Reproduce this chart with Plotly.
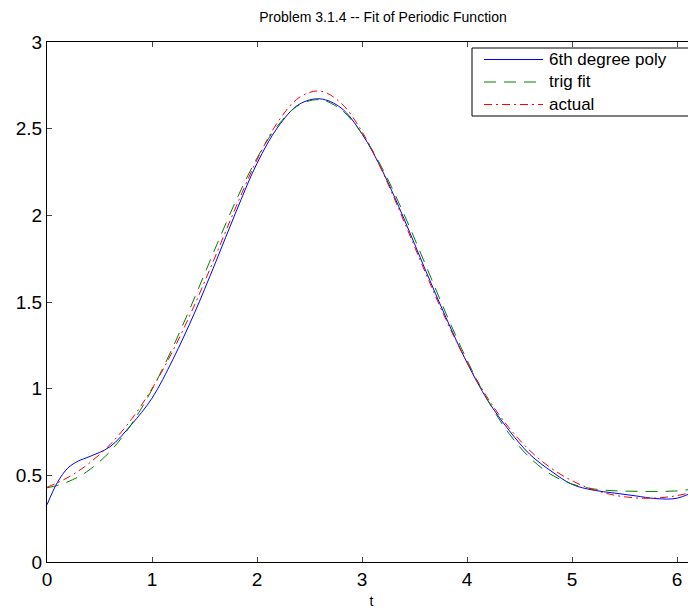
import plotly.graph_objects as go

# sample times
t = [0.0, 0.1, 0.2, 0.3, 0.4, 0.6, 0.8, 1.0, 1.2, 1.4, 1.6, 1.8, 2.0, 2.2, 2.4, 2.6, 2.8, 3.0,
     3.2, 3.4, 3.6, 3.8, 4.0, 4.2, 4.4, 4.6, 4.8, 5.0, 5.2, 5.4, 5.6, 5.8, 6.0, 6.2, 6.283]

# 6th degree polynomial fit (blue)
poly = [0.33, 0.46, 0.543, 0.583, 0.607, 0.665, 0.79, 0.945, 1.17, 1.43, 1.72, 2.02, 2.30,
        2.51, 2.64, 2.672, 2.62, 2.47, 2.25, 1.98, 1.69, 1.41, 1.15, 0.93, 0.76, 0.62, 0.525,
        0.448, 0.415, 0.398, 0.382, 0.366, 0.368, 0.42, 0.46]

# trigonometric fit (green)
trig = [0.428, 0.442, 0.463, 0.492, 0.530, 0.637, 0.791, 0.995, 1.241, 1.517, 1.806, 2.085,
        2.330, 2.520, 2.636, 2.667, 2.610, 2.471, 2.263, 2.006, 1.722, 1.434, 1.165, 0.930,
        0.741, 0.601, 0.505, 0.450, 0.422, 0.411, 0.408, 0.407, 0.410, 0.424, 0.428]

# actual function (red)
actual = [0.431, 0.457, 0.488, 0.525, 0.569, 0.677, 0.820, 1.000, 1.220, 1.476, 1.759, 2.049,
          2.320, 2.540, 2.679, 2.717, 2.648, 2.483, 2.245, 1.965, 1.675, 1.398, 1.152, 0.943,
          0.775, 0.642, 0.542, 0.469, 0.418, 0.386, 0.370, 0.369, 0.383, 0.413, 0.431]

series_names = ["6th degree poly", "trig fit", "actual"]
series_colors = ["#0000FF", "#008000", "#FF0000"]
series_dash = ["solid", "12px,8px", "8px,4px,2px,4px"]

x_ticks = [0, 1, 2, 3, 4, 5, 6]
y_ticks = [0, 0.5, 1, 1.5, 2, 2.5, 3]

FONT = "Liberation Sans, Arial, Helvetica, sans-serif"
OFF = 8                      # page body margin
W, H = 688, 605
L, R, T = 47 - OFF, 0, 42 - OFF
PH = 520
B = H - T - PH
PW = W - L - R


def px_x(px):  # page pixel -> paper
    return (px - OFF - L) / PW


def px_y(py):
    return (T + PH - (py - OFF)) / PH


fig = go.Figure()
for name, ys, col, dash in zip(series_names, [poly, trig, actual], series_colors, series_dash):
    fig.add_trace(go.Scatter(x=t, y=ys, mode="lines", name=name, showlegend=False,
                             line=dict(color=col, width=1, dash=dash, shape="spline")))

# legend drawn by hand (MATLAB style)
shapes = [dict(type="rect", xref="paper", yref="paper", x0=px_x(472), x1=px_x(705),
               y0=px_y(116), y1=px_y(48), line=dict(color="black", width=1),
               fillcolor="white", layer="above")]
annotations = []
rows = [59.5, 82, 104.5]
for name, col, dash, ry in zip(series_names, series_colors, series_dash, rows):
    shapes.append(dict(type="line", xref="paper", yref="paper", x0=px_x(484), x1=px_x(543),
                       y0=px_y(ry), y1=px_y(ry), line=dict(color=col, width=1, dash=dash),
                       layer="above"))
    annotations.append(dict(text=name, xref="paper", yref="paper", x=px_x(548), y=px_y(ry),
                            xanchor="left", yanchor="middle", showarrow=False, borderpad=0,
                            font=dict(size=17, family=FONT, color="black")))

fig.update_layout(
    width=W, height=H,
    margin=dict(l=L, r=R, t=T, b=B, autoexpand=False),
    paper_bgcolor="white", plot_bgcolor="white",
    font=dict(family=FONT, size=19, color="black"),
    title=dict(text="Problem 3.1.4 -- Fit of Periodic Function", x=(383 - OFF) / W,
               xref="container", xanchor="center", y=1 - 4 / H, yref="container",
               yanchor="top", pad=dict(t=0, b=0), font=dict(size=14)),
    showlegend=False,
    shapes=shapes,
    annotations=annotations,
    xaxis=dict(range=[0, (696 - 47) / 105], tickvals=x_ticks, ticks="inside", ticklen=5,
               showline=True, linecolor="black", linewidth=1, mirror="ticks",
               showgrid=False, zeroline=False, tickfont=dict(size=19), automargin=False,
               title=dict(text="t", font=dict(size=14), standoff=7)),
    yaxis=dict(range=[0, 3], tickvals=y_ticks, ticks="inside", ticklen=5,
               showline=True, linecolor="black", linewidth=1, mirror=False,
               showgrid=False, zeroline=False, tickfont=dict(size=19), automargin=False),
)

fig.write_html("out.html")
